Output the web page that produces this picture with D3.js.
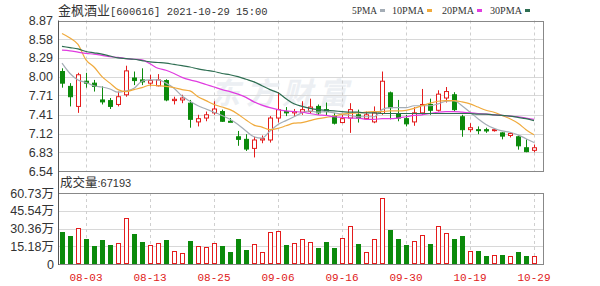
<!DOCTYPE html>
<html>
<head>
<meta charset="utf-8">
<script src="https://cdn.jsdelivr.net/npm/d3@7"></script>
<style>
  body { margin: 0; background: #fff; }
  svg { display: block; }
</style>
</head>
<body>
<div id="chart"></div>
<script>
const dates = ["07-29","07-30","08-02","08-03","08-04","08-05","08-06","08-09","08-10","08-11",
  "08-12","08-13","08-16","08-17","08-18","08-19","08-20","08-23","08-24","08-25",
  "08-26","08-27","08-30","08-31","09-01","09-02","09-03","09-06","09-07","09-08",
  "09-09","09-10","09-13","09-14","09-15","09-16","09-17","09-22","09-23","09-24",
  "09-27","09-28","09-29","09-30","10-08","10-11","10-12","10-13","10-14","10-15",
  "10-18","10-19","10-20","10-21","10-22","10-25","10-26","10-27","10-28","10-29"];

const open  = [8.08,7.85,7.54,7.93,7.90,7.64,7.63,7.57,7.72,7.98, 7.95,7.90,7.86,7.94,7.63,7.64,7.59,7.30,7.36,7.44,
               7.46,7.31,7.07,7.03,6.89,7.02,7.02,7.36,7.46,7.44, 7.45,7.46,7.54,7.49,7.39,7.29,7.36,7.41,7.35,7.30,
               7.43,7.75,7.43,7.35,7.30,7.44,7.57,7.48,7.67,7.72, 7.38,7.18,7.18,7.18,7.18,7.13,7.09,7.07,6.90,6.86];
const high  = [8.13,7.90,8.06,8.06,7.95,7.85,7.67,7.77,8.17,8.08, 8.13,8.03,8.04,7.96,7.69,7.72,7.64,7.41,7.46,7.62,
               7.49,7.36,7.16,7.11,7.07,7.09,7.39,7.76,7.53,7.50, 7.62,7.66,7.57,7.60,7.44,7.41,7.59,7.49,7.46,7.54,
               8.08,7.77,7.64,7.41,7.53,7.81,7.66,7.79,7.84,7.76, 7.41,7.28,7.23,7.21,7.20,7.14,7.14,7.09,7.03,6.95];
const low   = [7.83,7.54,7.44,7.83,7.77,7.57,7.50,7.54,7.69,7.87, 7.87,7.85,7.85,7.62,7.57,7.59,7.21,7.23,7.31,7.41,
               7.30,7.30,6.93,6.85,6.75,6.97,6.98,7.29,7.39,7.39, 7.41,7.43,7.41,7.40,7.26,7.28,7.13,7.29,7.33,7.28,
               7.41,7.34,7.31,7.23,7.24,7.41,7.41,7.46,7.60,7.46, 7.07,7.14,7.11,7.13,7.15,7.03,7.06,6.87,6.83,6.83];
const close = [7.90,7.69,8.03,7.90,7.85,7.61,7.54,7.69,8.09,7.94, 7.92,7.94,7.95,7.64,7.65,7.67,7.34,7.35,7.41,7.50,
               7.31,7.30,7.03,6.88,7.02,7.04,7.36,7.49,7.44,7.46, 7.49,7.53,7.44,7.46,7.28,7.35,7.49,7.36,7.41,7.44,
               7.93,7.52,7.36,7.27,7.44,7.57,7.48,7.73,7.77,7.49, 7.18,7.21,7.17,7.16,7.18,7.08,7.12,6.93,6.84,6.90];

// volume in lots (手)
const volume = [276000,240000,305000,211000,154000,205000,163000,177000,396000,257000,
                191000,163000,177000,205000,114000,97000,197000,154000,143000,177000,
                157000,105000,211000,120000,168000,103000,271000,282000,165000,177000,
                211000,191000,134000,185000,134000,220000,325000,168000,103000,211000,
                562000,291000,211000,163000,197000,245000,168000,325000,268000,211000,
                240000,114000,114000,68000,77000,77000,68000,105000,68000,67193];

const ma5  = [8.21,8.05,7.95,7.91,7.86,7.84,7.81,7.76,7.78,7.82, 7.93,7.95,7.95,7.90,7.82,7.70,7.62,7.55,7.50,7.45,
              7.40,7.34,7.26,7.16,7.07,7.05,7.16,7.26,7.32,7.38, 7.44,7.47,7.45,7.46,7.44,7.42,7.40,7.38,7.38,7.38,
              7.49,7.52,7.52,7.52,7.55,7.55,7.55,7.58,7.62,7.63, 7.55,7.45,7.35,7.26,7.20,7.16,7.14,7.10,7.04,6.98];
const ma10 = [8.67,8.60,8.50,8.26,8.15,8.00,7.90,7.80,7.77,7.80, 7.83,7.87,7.86,7.85,7.83,7.80,7.78,7.69,7.63,7.57,
              7.53,7.49,7.42,7.33,7.25,7.22,7.18,7.20,7.24,7.28, 7.29,7.32,7.35,7.37,7.39,7.42,7.43,7.44,7.45,7.46,
              7.46,7.47,7.47,7.48,7.51,7.55,7.59,7.62,7.63,7.63, 7.61,7.58,7.53,7.48,7.45,7.40,7.35,7.28,7.18,7.10];
const ma20 = [8.41,8.40,8.38,8.36,8.35,8.33,8.31,8.30,8.28,8.27, 8.26,8.20,8.13,8.10,8.05,7.99,7.95,7.92,7.88,7.84,
              7.80,7.77,7.73,7.68,7.61,7.56,7.52,7.49,7.47,7.46, 7.45,7.43,7.41,7.40,7.38,7.37,7.36,7.36,7.34,7.34,
              7.35,7.35,7.36,7.38,7.40,7.41,7.43,7.45,7.46,7.46, 7.45,7.44,7.43,7.42,7.41,7.40,7.39,7.38,7.36,7.34];
const ma30 = [8.47,8.45,8.43,8.39,8.37,8.35,8.32,8.29,8.28,8.27, 8.25,8.23,8.22,8.21,8.19,8.17,8.15,8.12,8.10,8.08,
              8.05,8.03,8.00,7.96,7.92,7.86,7.80,7.75,7.66,7.58, 7.54,7.51,7.49,7.48,7.47,7.46,7.45,7.45,7.44,7.44,
              7.43,7.43,7.43,7.43,7.43,7.43,7.43,7.43,7.43,7.43, 7.43,7.43,7.42,7.42,7.41,7.40,7.39,7.37,7.35,7.32];

const priceTicks = [6.54,6.83,7.12,7.41,7.71,8.00,8.29,8.58,8.87];
const volTicks = [0,151800,303600,455400,607300];
const volTickLabels = ["0","15.18万","30.36万","45.54万","60.73万"];
const dateTicks = ["08-03","08-13","08-25","09-06","09-16","09-30","10-19","10-29"];
const maNames = ["5PMA","10PMA","20PMA","30PMA"];

const W = 600, H = 286;
const L = 58, R = 543;
const P_TOP = 20.5, P_BOT = 171;
const V_TOP = 193, V_BOT = 264;

const UP = "#e41c1c";
const DOWN = "#0b8a0b";
const GRID = "#d8d8d8";
const AXIS = "#555";
const TEXT = "#333";
const MA_COLORS = ["#a4adb6", "#f0aa3c", "#e03ce0", "#2e6e52"];
const CJK = '"Noto Sans CJK SC", sans-serif';
const NUM = '"Liberation Sans", Arial, sans-serif';

const svg = d3.select("#chart").append("svg")
  .attr("width", W).attr("height", H)
  .attr("viewBox", `0 0 ${W} ${H}`);

const rows = dates.map((d, i) => ({
  date: d, o: open[i], h: high[i], l: low[i], c: close[i], v: volume[i]
}));

const x = d3.scalePoint().domain(dates).range([62, 534]);
const y = d3.scaleLinear().domain([6.54, 8.87]).range([P_BOT, P_TOP]);
const yv = d3.scaleLinear().domain([0, 607300]).range([V_BOT, V_TOP]);

// watermark
svg.append("text")
  .attr("x", 282).attr("y", 104)
  .attr("text-anchor", "middle")
  .attr("font-family", CJK)
  .attr("font-size", 30)
  .attr("font-weight", 700)
  .attr("font-style", "italic")
  .attr("fill", "#eceff3")
  .attr("letter-spacing", 6)
  .text("东方财富");

// horizontal grids
svg.append("g").selectAll("line").data(priceTicks).join("line")
  .attr("x1", L).attr("x2", R)
  .attr("y1", d => Math.round(y(d)) + 0.5).attr("y2", d => Math.round(y(d)) + 0.5)
  .attr("stroke", GRID);

svg.append("g").selectAll("line").data(volTicks).join("line")
  .attr("x1", L).attr("x2", R)
  .attr("y1", d => Math.round(yv(d)) + 0.5).attr("y2", d => Math.round(yv(d)) + 0.5)
  .attr("stroke", GRID);

// vertical dashed grids
const vg = svg.append("g");
[[P_TOP, P_BOT], [V_TOP, V_BOT]].forEach(([t, b]) => {
  vg.append("g").selectAll("line").data(dateTicks).join("line")
    .attr("x1", d => Math.round(x(d)) + 0.5).attr("x2", d => Math.round(x(d)) + 0.5)
    .attr("y1", t).attr("y2", b)
    .attr("stroke", "#cfcfcf")
    .attr("stroke-dasharray", "3,3");
});

// frames
const frame = svg.append("g").attr("stroke", "#888").attr("fill", "none");
frame.append("rect").attr("x", L + 0.5).attr("y", Math.round(P_TOP) + 0.5)
  .attr("width", R - L).attr("height", Math.round(P_BOT) - Math.round(P_TOP));
frame.append("rect").attr("x", L + 0.5).attr("y", V_TOP + 0.5)
  .attr("width", R - L).attr("height", V_BOT - V_TOP);
svg.append("line").attr("x1", L + 0.5).attr("x2", L + 0.5)
  .attr("y1", P_TOP).attr("y2", V_BOT + 1).attr("stroke", AXIS);

// volume bars
const bw = 5;
svg.append("g").selectAll("rect").data(rows).join("rect")
  .attr("x", d => Math.round(x(d.date) - bw / 2) + 0.5)
  .attr("y", d => Math.round(yv(d.v)) + 0.5)
  .attr("width", bw - 1)
  .attr("height", d => Math.max(0, Math.round(V_BOT - yv(d.v)) - 1))
  .attr("fill", d => d.c >= d.o ? "#fff" : DOWN)
  .attr("stroke", d => d.c >= d.o ? UP : DOWN);

// candles
const cg = svg.append("g");
cg.selectAll("line").data(rows).join("line")
  .attr("x1", d => Math.round(x(d.date)) + 0.5)
  .attr("x2", d => Math.round(x(d.date)) + 0.5)
  .attr("y1", d => y(d.h)).attr("y2", d => y(d.l))
  .attr("stroke", d => d.c >= d.o ? UP : DOWN);

cg.selectAll("rect").data(rows).join("rect")
  .attr("x", d => Math.round(x(d.date) - bw / 2) + 0.5)
  .attr("y", d => y(Math.max(d.o, d.c)))
  .attr("width", bw - 1)
  .attr("height", d => Math.max(1, Math.abs(y(d.o) - y(d.c))))
  .attr("fill", d => d.c >= d.o ? "#fff" : DOWN)
  .attr("stroke", d => d.c >= d.o ? UP : DOWN);

// moving averages
const line = d3.line().x((d, i) => x(dates[i])).y(d => y(d)).curve(d3.curveMonotoneX);
[ma5, ma10, ma20, ma30].forEach((s, k) => {
  svg.append("path").datum(s)
    .attr("d", line)
    .attr("fill", "none")
    .attr("stroke", MA_COLORS[k])
    .attr("stroke-width", 1.2);
});

// price axis labels
svg.append("g").selectAll("text").data(priceTicks).join("text")
  .attr("x", 53).attr("y", d => y(d) + 4.5)
  .attr("text-anchor", "end")
  .attr("font-family", NUM).attr("font-size", 12.5)
  .attr("fill", TEXT)
  .text(d => d.toFixed(2));

// volume axis labels
svg.append("g").selectAll("text").data(volTicks).join("text")
  .attr("x", 54).attr("y", d => yv(d) + 4.5)
  .attr("text-anchor", "end")
  .attr("font-family", `${NUM.split(",")[0]}, "Noto Sans CJK SC", sans-serif`)
  .attr("font-size", 12.5)
  .attr("fill", TEXT)
  .text((d, i) => volTickLabels[i]);

// date labels
svg.append("g").selectAll("text").data(dateTicks).join("text")
  .attr("x", d => x(d)).attr("y", 281)
  .attr("text-anchor", "middle")
  .attr("font-family", '"Liberation Mono", monospace')
  .attr("font-size", 11)
  .attr("fill", "#e02020")
  .text(d => d);

// title
const title = svg.append("text").attr("x", 58).attr("y", 15).attr("fill", TEXT);
title.append("tspan").attr("font-family", CJK).attr("font-size", 13).text("金枫酒业");
title.append("tspan").attr("font-family", '"Liberation Mono", monospace').attr("font-size", 10.5)
  .text("[600616] 2021-10-29 15:00");

// legend
const legendX = [352, 392, 442, 490];
const legendW = [25, 32, 32, 32];
const lg = svg.append("g");
maNames.forEach((n, k) => {
  lg.append("text")
    .attr("x", legendX[k]).attr("y", 14)
    .attr("font-family", '"Liberation Serif", serif')
    .attr("font-size", 10.5)
    .attr("textLength", legendW[k])
    .attr("lengthAdjust", "spacingAndGlyphs")
    .attr("fill", TEXT)
    .text(n);
  lg.append("rect")
    .attr("x", legendX[k] + legendW[k] + 3).attr("y", 9)
    .attr("width", 5).attr("height", 3)
    .attr("fill", MA_COLORS[k]);
});

// volume header
const vh = svg.append("text").attr("x", 60).attr("y", 187).attr("fill", TEXT);
vh.append("tspan").attr("font-family", CJK).attr("font-size", 12.5).text("成交量");
vh.append("tspan").attr("font-family", NUM).attr("font-size", 11).text(":" + volume[volume.length - 1]);
</script>
</body>
</html>
